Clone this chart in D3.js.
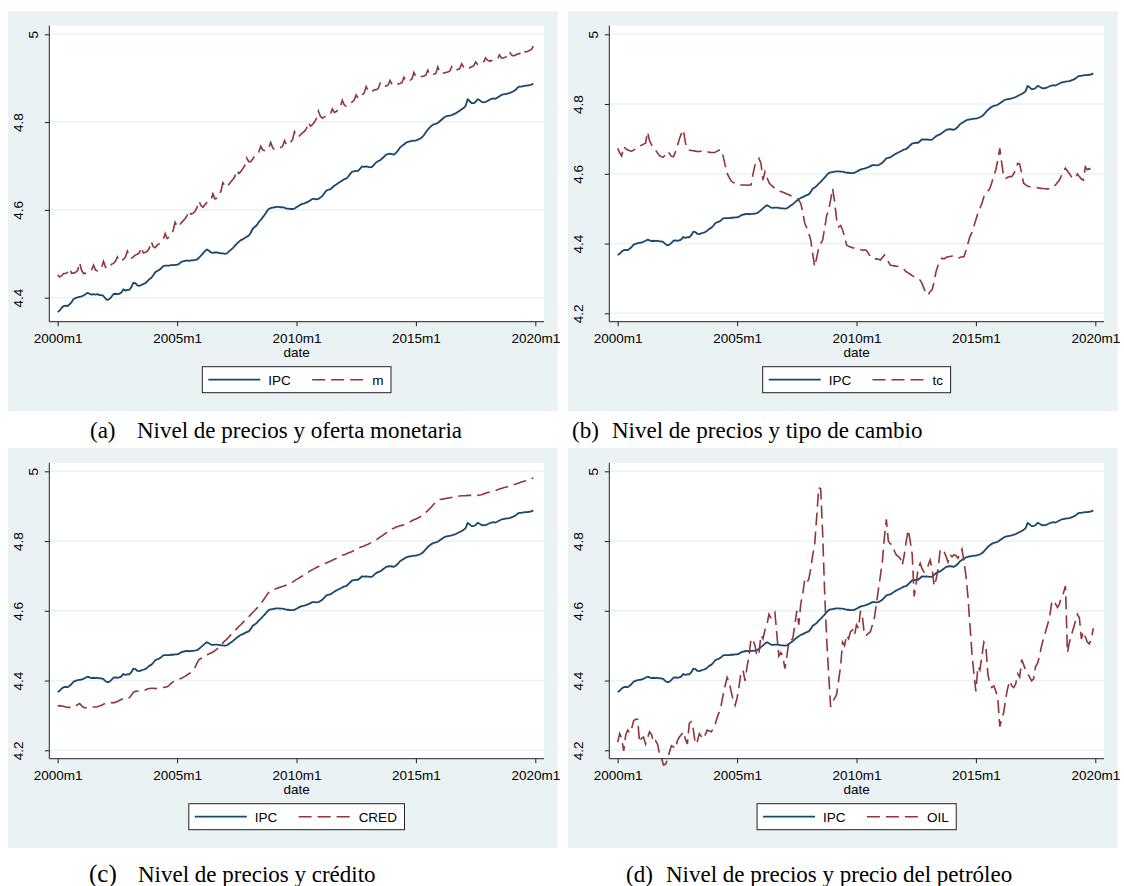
<!DOCTYPE html>
<html><head><meta charset="utf-8">
<script src="https://cdn.jsdelivr.net/npm/d3@7"></script>
<style>
body{margin:0;background:#fff;}
svg{display:block;}
</style></head><body>
<svg id="chart" width="1124" height="886"></svg>
<script>
// ---------- data (monthly, 2000m1 .. 2019m12) ----------
const xTickMonths = [0, 60, 120, 180, 240];
const xTickLabels = ["2000m1", "2005m1", "2010m1", "2015m1", "2020m1"];
const yTicksA = [4.4, 4.6, 4.8, 5];
const yTicksBCD = [4.2, 4.4, 4.6, 4.8, 5];

const ipc = [
4.367,4.371,4.377,4.381,4.382,4.381,4.385,4.390,4.397,4.399,4.401,4.402,
4.403,4.405,4.408,4.411,4.409,4.407,4.408,4.407,4.408,4.406,4.406,4.404,
4.398,4.395,4.397,4.402,4.408,4.409,4.408,4.409,4.412,4.419,4.416,4.418,
4.418,4.424,4.434,4.433,4.428,4.427,4.429,4.431,4.433,4.437,4.442,4.445,
4.451,4.458,4.461,4.463,4.467,4.472,4.473,4.473,4.473,4.474,4.474,4.475,
4.475,4.477,4.481,4.483,4.484,4.485,4.484,4.485,4.485,4.486,4.487,4.491,
4.496,4.501,4.506,4.510,4.507,4.503,4.502,4.503,4.503,4.502,4.501,4.501,
4.500,4.501,4.505,4.509,4.513,4.518,4.523,4.527,4.531,4.533,4.536,4.539,
4.541,4.548,4.557,4.561,4.565,4.572,4.577,4.583,4.589,4.596,4.602,4.604,
4.605,4.606,4.607,4.607,4.606,4.606,4.605,4.603,4.603,4.602,4.602,4.603,
4.606,4.609,4.612,4.614,4.615,4.617,4.619,4.622,4.625,4.625,4.624,4.625,
4.628,4.632,4.638,4.644,4.646,4.647,4.651,4.655,4.658,4.661,4.664,4.667,
4.670,4.671,4.676,4.682,4.687,4.688,4.689,4.689,4.694,4.699,4.698,4.699,
4.698,4.697,4.698,4.703,4.708,4.711,4.713,4.717,4.721,4.726,4.727,4.728,
4.727,4.726,4.730,4.735,4.742,4.746,4.749,4.753,4.755,4.756,4.757,4.758,
4.758,4.760,4.762,4.765,4.770,4.777,4.783,4.788,4.792,4.795,4.796,4.798,
4.802,4.806,4.810,4.813,4.814,4.815,4.816,4.818,4.820,4.823,4.826,4.829,
4.832,4.837,4.852,4.848,4.843,4.843,4.846,4.852,4.850,4.846,4.845,4.846,
4.848,4.851,4.853,4.854,4.853,4.856,4.859,4.862,4.863,4.864,4.865,4.866,
4.868,4.870,4.873,4.878,4.881,4.881,4.882,4.883,4.883,4.884,4.885,4.888];

const m = [
4.452,4.447,4.450,4.455,4.455,4.458,4.466,4.456,4.456,4.458,4.462,4.480,
4.462,4.455,4.456,4.458,4.460,4.463,4.474,4.463,4.461,4.464,4.468,4.483,
4.470,4.466,4.470,4.476,4.478,4.483,4.493,4.483,4.484,4.487,4.492,4.506,
4.494,4.490,4.493,4.497,4.499,4.502,4.515,4.502,4.503,4.506,4.512,4.528,
4.516,4.514,4.520,4.523,4.527,4.532,4.546,4.535,4.538,4.544,4.553,4.572,
4.563,4.562,4.570,4.575,4.580,4.587,4.598,4.590,4.592,4.597,4.605,4.620,
4.610,4.606,4.612,4.617,4.618,4.622,4.637,4.625,4.627,4.635,4.642,4.662,
4.655,4.652,4.658,4.664,4.669,4.676,4.690,4.683,4.687,4.694,4.701,4.718,
4.710,4.710,4.716,4.723,4.727,4.731,4.745,4.737,4.735,4.738,4.740,4.754,
4.742,4.737,4.738,4.740,4.742,4.745,4.758,4.748,4.749,4.754,4.760,4.778,
4.768,4.766,4.771,4.776,4.779,4.785,4.799,4.791,4.794,4.800,4.808,4.825,
4.813,4.809,4.812,4.814,4.815,4.818,4.830,4.822,4.824,4.829,4.834,4.850,
4.839,4.836,4.839,4.843,4.846,4.850,4.862,4.854,4.857,4.862,4.866,4.881,
4.872,4.868,4.870,4.873,4.874,4.876,4.888,4.880,4.880,4.882,4.884,4.895,
4.886,4.883,4.885,4.887,4.888,4.890,4.902,4.893,4.893,4.895,4.898,4.913,
4.904,4.902,4.903,4.904,4.905,4.907,4.918,4.908,4.907,4.909,4.911,4.926,
4.914,4.910,4.912,4.913,4.914,4.916,4.926,4.918,4.918,4.920,4.922,4.933,
4.925,4.921,4.922,4.924,4.926,4.928,4.937,4.931,4.932,4.934,4.937,4.946,
4.941,4.939,4.940,4.942,4.942,4.944,4.953,4.946,4.946,4.948,4.950,4.960,
4.953,4.951,4.952,4.955,4.956,4.957,4.964,4.960,4.961,4.963,4.965,4.973];

const tc = [
4.673,4.660,4.651,4.678,4.672,4.668,4.666,4.665,4.668,4.672,4.678,4.680,
4.682,4.685,4.688,4.720,4.695,4.683,4.676,4.668,4.660,4.652,4.649,4.648,
4.655,4.664,4.658,4.650,4.649,4.662,4.680,4.700,4.715,4.726,4.690,4.670,
4.668,4.667,4.666,4.665,4.664,4.664,4.665,4.665,4.664,4.663,4.662,4.661,
4.661,4.662,4.665,4.668,4.668,4.650,4.625,4.601,4.590,4.580,4.575,4.573,
4.570,4.569,4.568,4.568,4.568,4.567,4.568,4.568,4.600,4.625,4.632,4.644,
4.630,4.582,4.606,4.590,4.575,4.568,4.563,4.558,4.554,4.551,4.549,4.547,
4.545,4.542,4.540,4.537,4.534,4.531,4.530,4.524,4.515,4.490,4.458,4.445,
4.429,4.410,4.370,4.334,4.360,4.386,4.400,4.410,4.445,4.480,4.496,4.525,
4.558,4.520,4.470,4.448,4.452,4.439,4.420,4.396,4.392,4.390,4.388,4.386,
4.384,4.384,4.383,4.381,4.382,4.380,4.372,4.362,4.358,4.356,4.356,4.355,
4.353,4.360,4.367,4.360,4.348,4.338,4.337,4.336,4.335,4.334,4.333,4.330,
4.325,4.319,4.316,4.312,4.308,4.305,4.303,4.300,4.295,4.285,4.270,4.257,
4.252,4.262,4.267,4.290,4.320,4.338,4.352,4.358,4.356,4.360,4.362,4.363,
4.364,4.362,4.360,4.358,4.360,4.362,4.362,4.380,4.400,4.420,4.432,4.450,
4.468,4.487,4.500,4.515,4.534,4.545,4.550,4.558,4.575,4.595,4.611,4.640,
4.673,4.630,4.590,4.587,4.590,4.592,4.592,4.600,4.612,4.630,4.628,4.600,
4.573,4.568,4.565,4.563,4.563,4.562,4.561,4.560,4.559,4.558,4.558,4.557,
4.556,4.558,4.562,4.563,4.568,4.575,4.582,4.595,4.608,4.616,4.608,4.600,
4.592,4.588,4.587,4.600,4.592,4.585,4.582,4.620,4.612,4.615,4.610,4.612];

const cred = [
4.327,4.328,4.327,4.326,4.324,4.323,4.323,4.322,4.324,4.327,4.331,4.334,
4.328,4.323,4.322,4.323,4.323,4.323,4.324,4.324,4.325,4.327,4.329,4.332,
4.335,4.337,4.336,4.337,4.336,4.338,4.340,4.343,4.346,4.347,4.346,4.350,
4.351,4.358,4.366,4.369,4.370,4.370,4.371,4.371,4.373,4.376,4.377,4.378,
4.378,4.377,4.378,4.378,4.379,4.380,4.381,4.382,4.386,4.392,4.396,4.400,
4.402,4.404,4.406,4.409,4.412,4.416,4.420,4.424,4.428,4.438,4.450,4.460,
4.463,4.466,4.470,4.474,4.476,4.479,4.482,4.486,4.490,4.495,4.502,4.508,
4.514,4.519,4.525,4.531,4.537,4.543,4.549,4.555,4.560,4.566,4.572,4.578,
4.583,4.589,4.595,4.601,4.607,4.613,4.620,4.628,4.636,4.645,4.652,4.657,
4.659,4.662,4.664,4.666,4.668,4.670,4.672,4.674,4.676,4.678,4.682,4.686,
4.690,4.693,4.697,4.700,4.703,4.707,4.711,4.715,4.718,4.721,4.724,4.727,
4.729,4.732,4.735,4.737,4.740,4.742,4.745,4.748,4.750,4.753,4.756,4.759,
4.761,4.763,4.766,4.768,4.770,4.773,4.776,4.779,4.782,4.784,4.786,4.789,
4.791,4.794,4.797,4.800,4.803,4.807,4.811,4.815,4.819,4.823,4.827,4.832,
4.835,4.837,4.840,4.842,4.844,4.845,4.847,4.850,4.852,4.855,4.858,4.861,
4.863,4.866,4.869,4.873,4.877,4.882,4.887,4.893,4.899,4.906,4.912,4.917,
4.919,4.920,4.921,4.922,4.923,4.924,4.925,4.926,4.927,4.928,4.929,4.930,
4.930,4.930,4.931,4.931,4.931,4.931,4.931,4.931,4.932,4.933,4.935,4.937,
4.939,4.940,4.941,4.943,4.945,4.947,4.949,4.951,4.953,4.954,4.956,4.958,
4.960,4.962,4.963,4.965,4.967,4.969,4.971,4.973,4.975,4.977,4.979,4.981];

const oil = [
4.223,4.248,4.235,4.198,4.243,4.258,4.250,4.262,4.285,4.289,4.289,4.223,
4.235,4.238,4.218,4.235,4.253,4.245,4.223,4.228,4.218,4.190,4.178,4.158,
4.160,4.173,4.195,4.213,4.210,4.205,4.228,4.238,4.245,4.253,4.232,4.218,
4.278,4.282,4.260,4.218,4.225,4.248,4.240,4.233,4.245,4.258,4.255,4.253,
4.262,4.275,4.294,4.310,4.330,4.359,4.385,4.409,4.395,4.369,4.345,4.329,
4.350,4.384,4.425,4.429,4.399,4.440,4.470,4.520,4.515,4.500,4.470,4.480,
4.530,4.520,4.545,4.560,4.590,4.580,4.585,4.595,4.530,4.470,4.480,4.470,
4.434,4.470,4.510,4.515,4.520,4.560,4.600,4.560,4.620,4.650,4.690,4.681,
4.690,4.720,4.760,4.790,4.870,4.953,4.950,4.820,4.651,4.520,4.419,4.324,
4.340,4.349,4.360,4.400,4.440,4.510,4.500,4.530,4.520,4.540,4.545,4.530,
4.560,4.550,4.600,4.580,4.530,4.530,4.535,4.540,4.560,4.580,4.620,4.661,
4.700,4.741,4.810,4.862,4.800,4.792,4.790,4.772,4.760,4.756,4.750,4.731,
4.760,4.800,4.832,4.800,4.761,4.641,4.680,4.721,4.736,4.720,4.711,4.716,
4.730,4.746,4.720,4.671,4.690,4.720,4.772,4.778,4.770,4.756,4.740,4.761,
4.755,4.761,4.758,4.751,4.765,4.777,4.741,4.701,4.640,4.560,4.480,4.419,
4.369,4.440,4.430,4.470,4.510,4.500,4.420,4.389,4.380,4.385,4.370,4.349,
4.268,4.290,4.309,4.350,4.379,4.399,4.385,4.380,4.390,4.419,4.410,4.460,
4.445,4.429,4.420,4.410,4.399,4.405,4.440,4.450,4.470,4.500,4.520,4.540,
4.560,4.580,4.620,4.610,4.620,4.610,4.620,4.640,4.651,4.671,4.480,4.510,
4.530,4.550,4.570,4.590,4.580,4.519,4.540,4.525,4.510,4.505,4.520,4.550];

const seriesNames = ["IPC", "m", "tc", "CRED", "OIL"];
const captionTags = ["(a)", "(b)", "(c)", "(d)"];
const captionTexts = [
  "Nivel de precios y oferta monetaria",
  "Nivel de precios y tipo de cambio",
  "Nivel de precios y crédito",
  "Nivel de precios y precio del petróleo"
];
const xTitle = "date";

// ---------- layout ----------
const svg = d3.select("#chart");
const BG = "#eaf2f3", NAVY = "#1a476f", MAROON = "#90353b";
const SANS = "'Liberation Sans', Arial, sans-serif";
const SERIF = "'Liberation Serif', 'Times New Roman', serif";
const AX_FS = 13.5;

const panelDefs = [
  {ox: 0,   oy: 0,   other: m,    name: seriesNames[1], yTicks: yTicksA,   yDom: [4.4, 5], yRange: [297.7, 34.3]},
  {ox: 560, oy: 0,   other: tc,   name: seriesNames[2], yTicks: yTicksBCD, yDom: [4.2, 5], yRange: [313.3, 34.3]},
  {ox: 0,   oy: 437, other: cred, name: seriesNames[3], yTicks: yTicksBCD, yDom: [4.2, 5], yRange: [313.3, 34.3]},
  {ox: 560, oy: 437, other: oil,  name: seriesNames[4], yTicks: yTicksBCD, yDom: [4.2, 5], yRange: [313.3, 34.3]}
];
const captionPos = [
  {tx: 90,  nx: 137, y: 438, tagSize: 23},
  {tx: 572, nx: 612, y: 438, tagSize: 23},
  {tx: 89,  nx: 138, y: 882, tagSize: 25},
  {tx: 626, nx: 666, y: 882, tagSize: 23}
];
const CAP_FS = 23;

const plotL = 49.3, plotR = 544, plotT = 25.7, plotB = 321.7;

panelDefs.forEach((p, pi) => {
  const g = svg.append("g").attr("transform", `translate(${p.ox},${p.oy})`);
  g.append("rect").attr("x", 8).attr("y", 11).attr("width", 549.7).attr("height", 400).attr("fill", BG);
  g.append("rect").attr("x", plotL).attr("y", plotT).attr("width", plotR - plotL).attr("height", plotB - plotT).attr("fill", "#fff");

  const xs = d3.scaleLinear().domain([0, 240]).range([57.7, 535.3]);
  const ys = d3.scaleLinear().domain(p.yDom).range(p.yRange);

  g.append("g").selectAll("line").data(p.yTicks).join("line")
    .attr("x1", plotL).attr("x2", plotR)
    .attr("y1", d => ys(d)).attr("y2", d => ys(d))
    .attr("stroke", BG).attr("stroke-width", 1.5);

  const line = d3.line().x((d, i) => xs(i)).y(d => ys(d));
  g.append("path").datum(ipc).attr("d", line).attr("fill", "none")
    .attr("stroke", NAVY).attr("stroke-width", 1.8).attr("stroke-linejoin", "round");
  g.append("path").datum(p.other).attr("d", line).attr("fill", "none")
    .attr("stroke", MAROON).attr("stroke-width", 1.6).attr("stroke-dasharray", "13,6");

  const xAxis = d3.axisBottom(xs).tickValues(xTickMonths)
    .tickFormat((d, i) => xTickLabels[i]).tickSize(4.5).tickSizeOuter(0).tickPadding(3);
  const gx = g.append("g").attr("transform", `translate(0,${plotB})`).call(xAxis);
  gx.select(".domain").attr("d", `M${plotL},0H${plotR}`).attr("stroke", "#222").attr("stroke-width", 1);
  gx.selectAll(".tick line").attr("stroke", "#222");
  gx.selectAll(".tick text").attr("font-family", SANS).attr("font-size", AX_FS).attr("fill", "#000")
    .attr("y", 0).attr("dy", null).attr("transform", "translate(0,20.8)");

  g.append("text").attr("x", (plotL + plotR) / 2).attr("y", 356.5).attr("text-anchor", "middle")
    .attr("font-family", SANS).attr("font-size", AX_FS).text(xTitle);

  const yAxis = d3.axisLeft(ys).tickValues(p.yTicks).tickFormat(d3.format("~g"))
    .tickSize(4.5).tickSizeOuter(0);
  const gy = g.append("g").attr("transform", `translate(${plotL},0)`).call(yAxis);
  gy.select(".domain").attr("d", `M0,${plotT}V${plotB}`).attr("stroke", "#222").attr("stroke-width", 1);
  gy.selectAll(".tick line").attr("stroke", "#222");
  gy.selectAll(".tick text").each(function () {
    const t = d3.select(this);
    t.attr("font-family", SANS).attr("font-size", AX_FS).attr("fill", "#000")
      .attr("text-anchor", "middle").attr("x", 0).attr("dy", "0.36em");
    const w = this.getComputedTextLength();
    const cx = 43.6 - 1.35 * w - plotL;
    t.attr("transform", `translate(${cx},0) rotate(-90)`);
  });

  const leg = g.append("g");
  const labels = [seriesNames[0], p.name];
  const padL = 6, keyW = 52, keyGap = 8, colGap = 21.3, padR = 7.6;
  const tmp = leg.append("text").attr("font-family", SANS).attr("font-size", AX_FS);
  const widths = labels.map(s => { tmp.text(s); return tmp.node().getComputedTextLength(); });
  tmp.remove();
  const boxW = padL + keyW + keyGap + widths[0] + colGap + keyW + keyGap + widths[1] + padR;
  const bx = (plotL + plotR) / 2 - boxW / 2, by = 366.7, bh = 26;
  leg.append("rect").attr("x", bx).attr("y", by).attr("width", boxW).attr("height", bh)
    .attr("fill", "#fff").attr("stroke", "#222").attr("stroke-width", 1);
  const cy = by + bh / 2;
  let x0 = bx + padL;
  leg.append("line").attr("x1", x0).attr("x2", x0 + keyW).attr("y1", cy).attr("y2", cy)
    .attr("stroke", NAVY).attr("stroke-width", 1.8);
  leg.append("text").attr("x", x0 + keyW + keyGap).attr("y", cy).attr("dy", "0.36em")
    .attr("font-family", SANS).attr("font-size", AX_FS).text(labels[0]);
  x0 = x0 + keyW + keyGap + widths[0] + colGap;
  leg.append("line").attr("x1", x0).attr("x2", x0 + keyW).attr("y1", cy).attr("y2", cy)
    .attr("stroke", MAROON).attr("stroke-width", 1.6).attr("stroke-dasharray", "13,6");
  leg.append("text").attr("x", x0 + keyW + keyGap).attr("y", cy).attr("dy", "0.36em")
    .attr("font-family", SANS).attr("font-size", AX_FS).text(labels[1]);

  const c = captionPos[pi];
  svg.append("text").attr("x", c.tx).attr("y", c.y).attr("font-family", SERIF)
    .attr("font-size", c.tagSize).attr("fill", "#000").text(captionTags[pi]);
  svg.append("text").attr("x", c.nx).attr("y", c.y).attr("font-family", SERIF)
    .attr("font-size", CAP_FS).attr("fill", "#000").text(captionTexts[pi]);
});
</script>
</body></html>
